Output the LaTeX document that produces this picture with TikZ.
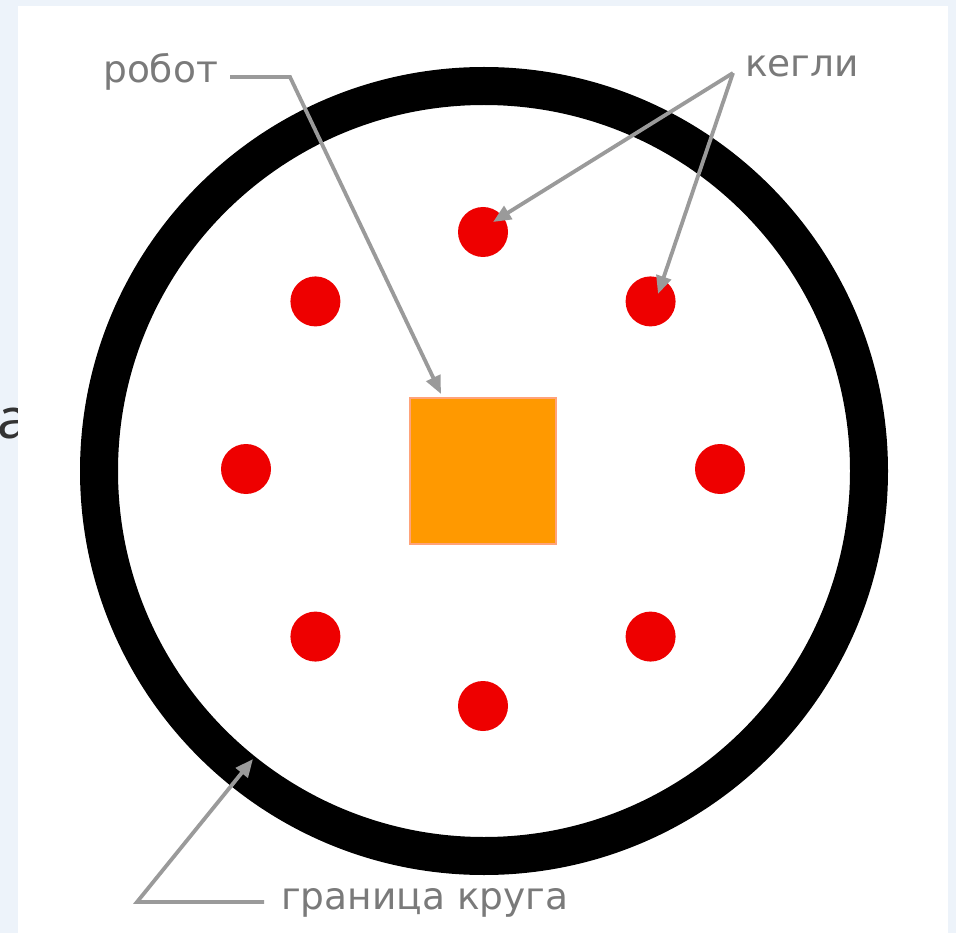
\documentclass[tikz,border=0pt]{standalone}
\usepackage{fontspec}
\setmainfont{DejaVu Sans}
\newfontfamily\notosans{Noto Sans}
\usetikzlibrary{arrows.meta,calc}
\definecolor{bgblue}{HTML}{EDF3FA}
\definecolor{lbl}{HTML}{7A7A7A}
\definecolor{conn}{HTML}{9A9A9A}
\definecolor{pinred}{HTML}{EE0000}
\definecolor{robotorange}{HTML}{FF9900}
\definecolor{robotedge}{HTML}{FFA37A}
\tikzset{
  labeltext/.style={text=lbl, inner sep=0pt, font=\fontsize{37.5}{40}\selectfont},
  connector/.style={draw=conn, line width=3.8pt},
  pointer/.style={connector, -{Triangle[length=18pt,width=15pt]}},
  pin/.style={circle, fill=pinred, minimum size=50pt, inner sep=0pt},
}
\begin{document}
\begin{tikzpicture}[x=1pt,y=-1pt]
\useasboundingbox (0,0) rectangle (956,933);
\fill[bgblue] (0,0) rectangle (956,933);
\node[anchor=west, inner sep=0pt, text=black!80, font=\notosans\fontsize{56}{60}\selectfont] (stray) at (-3,424) {a};
\fill[white] (18,6) rectangle (948,933);
% ring
\node[circle, draw=black, line width=38pt, minimum size=770pt, inner sep=0pt] (ring) at (484,471) {};
% robot
\node[draw=robotedge, line width=2pt, fill=robotorange, minimum size=146pt, inner sep=0pt] (robot) at (483,470.5) {};
% pins
\foreach \a [count=\i] in {90,45,0,-45,-90,-135,180,135}{
  \node[pin] (p\i) at ($(483,469)+(\a:237pt)$) {};
}
% labels
\node[labeltext, anchor=west] (lrobot) at (103,72) {робот};
\node[labeltext, anchor=west] (lpins) at (745,66) {кегли};
\node[labeltext, anchor=west] (lring) at (281,903) {граница круга};
% connectors
\coordinate (rbend) at (290,77);
\coordinate (rtip) at (441,394);
\coordinate (rstart) at (230,77);
\draw[pointer] (rstart) -- (rbend) -- (rtip);
\coordinate (kv) at (733,73);
\coordinate (ktipa) at (493,222);
\coordinate (ktipb) at (658,294);
\draw[pointer] (kv) -- (ktipa);
\draw[pointer] (kv) -- (ktipb);
\coordinate (gstart) at (264,902);
\coordinate (gbend) at (137,902);
\coordinate (gtip) at (253,759);
\draw[pointer] (gstart) -- (gbend) -- (gtip);
\end{tikzpicture}
\end{document}
